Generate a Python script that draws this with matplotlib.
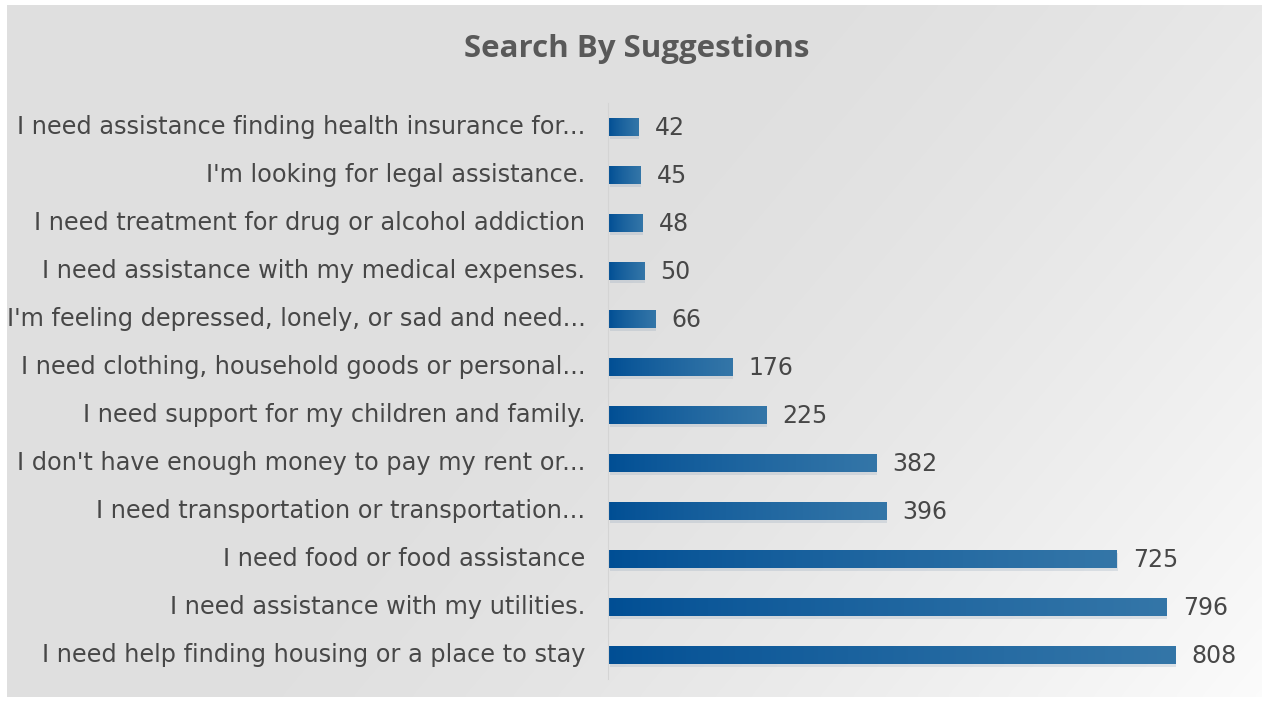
import matplotlib.pyplot as plt
import numpy as np
from matplotlib.patches import Rectangle

labels = [
    "I need help finding housing or a place to stay",
    "I need assistance with my utilities.",
    "I need food or food assistance",
    "I need transportation or transportation...",
    "I don't have enough money to pay my rent or...",
    "I need support for my children and family.",
    "I need clothing, household goods or personal...",
    "I'm feeling depressed, lonely, or sad and need...",
    "I need assistance with my medical expenses.",
    "I need treatment for drug or alcohol addiction",
    "I'm looking for legal assistance.",
    "I need assistance finding health insurance for...",
]
counts = [808, 796, 725, 396, 382, 225, 176, 66, 50, 48, 45, 42]

W, H = 1268, 702
fig = plt.figure(figsize=(W / 100, H / 100), dpi=100)
fig.patch.set_facecolor("white")

# background panel with soft gradient
bg = fig.add_axes([7 / W, 5 / H, (1262 - 7) / W, (697 - 5) / H])
gx, gy = np.meshgrid(np.linspace(0, 1, 300), np.linspace(0, 1, 200))
g = np.clip((gx * 0.75 + gy * 0.35 - 0.45) / 0.65, 0, 1)
shade = 0.875 + 0.11 * g ** 1.5
bg.imshow(np.dstack([shade, shade, shade]), aspect="auto", extent=[0, 1, 0, 1],
          origin="upper", interpolation="bicubic")
bg.set_axis_off()

ax = fig.add_axes([609 / W, (H - 679) / H, (1250 - 609) / W, (679 - 103) / H])
ax.set_facecolor("none")
y = np.arange(len(labels))
bars = ax.barh(y, counts, height=0.38, color="none")

grad = np.linspace(0, 1, 256)
c0 = np.array([0, 78, 148]) / 255
c1 = np.array([52, 118, 168]) / 255
cols = c0[None, :] + (c1 - c0)[None, :] * grad[:, None] ** 0.8
img = cols[None, :, :]
for b in bars:
    x0, y0, w, h = b.get_x(), b.get_y(), b.get_width(), b.get_height()
    sh = Rectangle((x0 + 1, y0 - 0.06), w, h, color="#8fa3b8", alpha=0.25, lw=0, zorder=1)
    ax.add_patch(sh)
    im = ax.imshow(img, extent=[x0, x0 + w, y0, y0 + h], aspect="auto", zorder=2,
                   interpolation="bilinear")
    im.set_clip_path(b)
    ax.text(x0 + w + 23, y0 + h / 2 - 0.02, str(int(w)), va="center", ha="left",
            fontsize=17, color="#474747")

ax.set_xlim(0, 915)
ax.set_ylim(-0.5, len(labels) - 0.5)
ax.set_xticks([])
for s in ["top", "right", "bottom"]:
    ax.spines[s].set_visible(False)
ax.spines["left"].set_color("#d4d4d4")
ax.spines["left"].set_position(("data", -2))

# tick labels last, spine position resets the ticks
ax.tick_params(axis="y", length=0, pad=16)
ax.set_yticks(y)
ax.set_yticklabels(labels, fontsize=17.3, color="#474747", va="center")

fig.text(637 / W, 1 - 49 / H, "Search By Suggestions", ha="center", va="center",
         fontsize=22.5, fontweight="bold", color="#595959", family="Open Sans")

plt.savefig("out.png", dpi=100)
